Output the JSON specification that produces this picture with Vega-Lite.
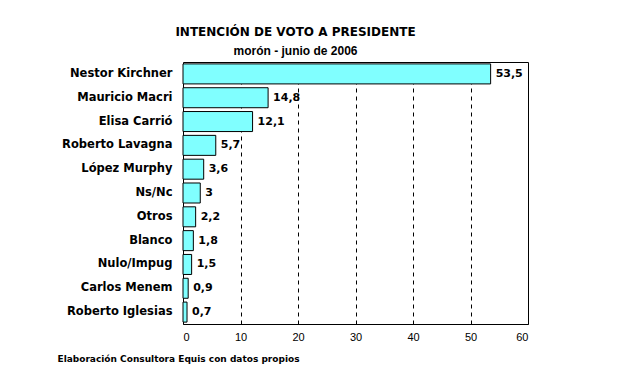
{
  "$schema": "https://vega.github.io/schema/vega-lite/v6.json",
  "width": 345,
  "height": 262,
  "autosize": "none",
  "padding": {"left": 183, "top": 62, "right": 93, "bottom": 63},
  "background": "white",
  "config": {
    "locale": {"number": {"decimal": ",", "thousands": ".", "grouping": [3], "currency": ["", ""]}},
    "view": {"stroke": "black", "strokeWidth": 1}
  },
  "title": {
    "text": "INTENCIÓN DE VOTO A PRESIDENTE",
    "subtitle": "morón - junio de 2006",
    "anchor": "middle",
    "dx": -60,
    "offset": 4,
    "font": "DejaVu Sans",
    "fontSize": 12,
    "fontWeight": "bold",
    "color": "black",
    "subtitleFont": "Liberation Sans",
    "subtitleFontSize": 12,
    "subtitleFontWeight": "bold",
    "subtitleColor": "black",
    "subtitlePadding": 7
  },
  "data": {
    "values": [
      {"name": "Nestor Kirchner", "value": 53.5},
      {"name": "Mauricio Macri", "value": 14.8},
      {"name": "Elisa Carrió", "value": 12.1},
      {"name": "Roberto Lavagna", "value": 5.7},
      {"name": "López Murphy", "value": 3.6},
      {"name": "Ns/Nc", "value": 3},
      {"name": "Otros", "value": 2.2},
      {"name": "Blanco", "value": 1.8},
      {"name": "Nulo/Impug", "value": 1.5},
      {"name": "Carlos Menem", "value": 0.9},
      {"name": "Roberto Iglesias", "value": 0.7}
    ]
  },
  "encoding": {
    "y": {
      "field": "name",
      "type": "nominal",
      "sort": null,
      "scale": {"paddingInner": 0.16, "paddingOuter": 0.08},
      "axis": {
        "title": null,
        "ticks": false,
        "domain": false,
        "labelPadding": 11,
        "labelFont": "DejaVu Sans",
        "labelFontWeight": "bold",
        "labelFontSize": 11.5,
        "labelColor": "black"
      }
    }
  },
  "layer": [
    {
      "mark": {"type": "bar", "fill": "#80FFFF", "stroke": "black", "strokeWidth": 1},
      "encoding": {
        "x": {
          "field": "value",
          "type": "quantitative",
          "scale": {"domain": [0, 60], "nice": false},
          "axis": {
            "values": [0, 10, 20, 30, 40, 50, 60],
            "grid": true,
            "gridColor": "black",
            "gridDash": [4, 4],
            "gridOpacity": 1,
            "ticks": false,
            "domain": false,
            "labelPadding": 7,
            "labelFont": "Liberation Sans",
            "labelFontSize": 11,
            "labelColor": "black",
            "title": "Elaboración Consultora Equis con datos propios",
            "titleFont": "DejaVu Sans",
            "titleFontSize": 9,
            "titleFontWeight": "bold",
            "titleColor": "black",
            "titleAlign": "left",
            "titleAnchor": "start",
            "titleBaseline": "middle",
            "titleX": -126,
            "titleY": 34
          }
        }
      }
    },
    {
      "mark": {"type": "text", "align": "left", "dx": 5, "font": "DejaVu Sans", "fontWeight": "bold", "fontSize": 11, "color": "black"},
      "encoding": {
        "x": {"field": "value", "type": "quantitative"},
        "text": {"field": "value", "type": "quantitative", "format": "~g"}
      }
    }
  ]
}
